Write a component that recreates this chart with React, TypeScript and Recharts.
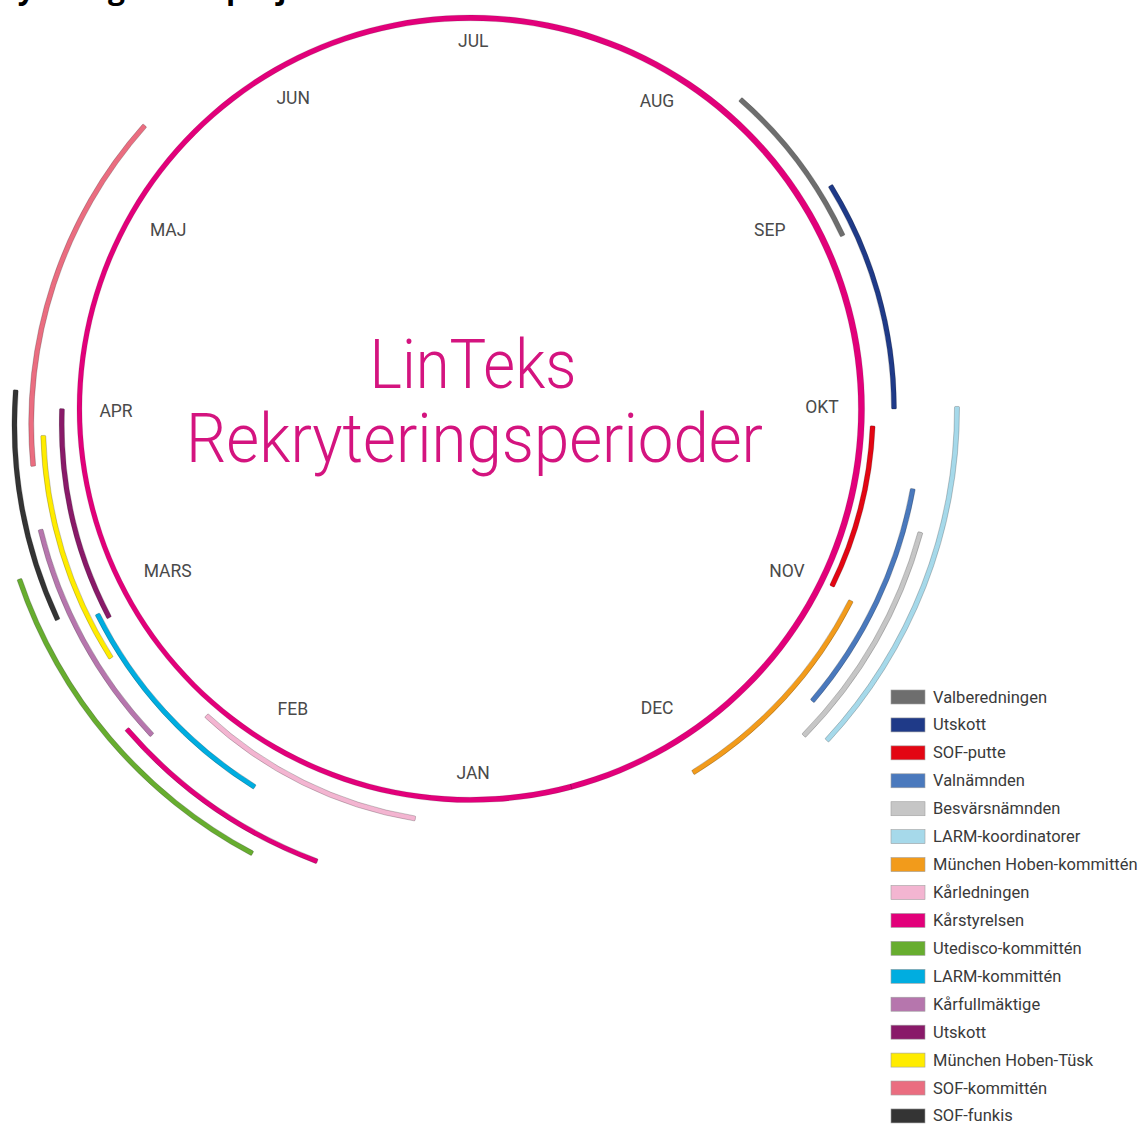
import React from 'react';
import { PieChart, Pie, Cell } from 'recharts';

// ---- data ----
const months = ['JAN', 'FEB', 'MARS', 'APR', 'MAJ', 'JUN', 'JUL', 'AUG', 'SEP', 'OKT', 'NOV', 'DEC'];

const groups = [
  'Valberedningen',
  'Utskott',
  'SOF-putte',
  'Valnämnden',
  'Besvärsnämnden',
  'LARM-koordinatorer',
  'München Hoben-kommittén',
  'Kårledningen',
  'Kårstyrelsen',
  'Utedisco-kommittén',
  'LARM-kommittén',
  'Kårfullmäktige',
  'Utskott',
  'München Hoben-Tüsk',
  'SOF-kommittén',
  'SOF-funkis',
];

// recruitment period, in months from 1 January (0 = 1 Jan, 12 = 31 Dec)
const periodStart = [7.87, 8.44, 9.58, 9.84, 10.01, 9.49, 10.39, 0.81, 1.18, 1.43, 1.56, 2.05, 2.58, 2.42, 3.32, 2.67];
const periodEnd = [8.67, 9.5, 10.37, 10.85, 10.98, 10.93, 11.45, 1.94, 2.14, 2.88, 2.62, 3.05, 3.57, 3.45, 4.89, 3.64];

const titleLines = ['LinTeks', 'Rekryteringsperioder'];
const headingText = 'Rekryteringar och projekt';

// ---- styles / layout ----
const groupColors = [
  '#6e6e6e',
  '#1f3a88',
  '#e30613',
  '#4a79bd',
  '#c6c6c6',
  '#a6d9ea',
  '#f29b1b',
  '#f3b5d1',
  '#e2007a',
  '#67ad2f',
  '#00ade0',
  '#b676ad',
  '#891a69',
  '#ffec00',
  '#ea6d80',
  '#343434',
];
// distance of each period's arc from its ring centre (px)
const ringRadius = [411, 424, 403, 450, 467, 487, 426.5, 399.8, 466.7, 486, 427.2, 452, 418.3, 436.9, 448.8, 465.5];
// month label placement: distance from the centre (px) and angular nudge (deg)
const monthLabelRadius = [364, 348, 343, 354, 351, 358, 368, 360, 349, 352, 356, 353];
const monthLabelNudge = [0.5, -0.6, -1.8, 0.3, -0.7, -0.4, -0.5, -1.3, 0.8, 0.3, 2.9, 2];

const W = 1138;
const H = 1124;
const CX = 470;
const CY = 409;
// spring-semester arcs are drawn around a slightly offset centre
const SPRING_CX = 480;
const SPRING_CY = 424;
const YEAR = 12;
const START_ANGLE = 285; // 1 January
const END_ANGLE = START_ANGLE - 360;
const MAIN_R = 391;
const ARC_W = 5;
const MAGENTA = '#e2007a';
const FONT = 'Roboto, "DejaVu Sans", sans-serif';

const monthData = months.map((m) => ({ name: m, value: 1 }));

function MonthLabel(props: any) {
  const { cx, cy, midAngle, index } = props;
  const name = props.name ?? props.payload?.name;
  const r = monthLabelRadius[index] ?? 356;
  const ang = midAngle + (monthLabelNudge[index] ?? 0);
  const rad = (-ang * Math.PI) / 180;
  const x = cx + r * Math.cos(rad);
  const y = cy + r * Math.sin(rad);
  return (
    <text
      x={x}
      y={y}
      textAnchor="middle"
      dominantBaseline="central"
      fontSize={17.5}
      fill="#4a4a4a"
      fontFamily={FONT}
    >
      {name}
    </text>
  );
}

export default function App() {
  const legendTop = 697;
  const legendStep = 27.93;
  return (
    <div style={{ position: 'absolute', left: 0, top: 0, width: W, height: H, background: '#fff', overflow: 'hidden' }}>
      <PieChart width={W} height={H} margin={{ top: 0, right: 0, bottom: 0, left: 0 }}>
        {/* year ring */}
        <Pie
          data={[{ name: 'år', value: YEAR }]}
          dataKey="value"
          cx={CX}
          cy={CY}
          startAngle={START_ANGLE}
          endAngle={END_ANGLE}
          innerRadius={MAIN_R - 2.8}
          outerRadius={MAIN_R + 2.8}
          isAnimationActive={false}
          stroke="rgba(0,0,0,0.25)"
          strokeWidth={0.5}
          fill={MAGENTA}
        />
        {/* month labels */}
        <Pie
          data={monthData}
          dataKey="value"
          nameKey="name"
          cx={CX}
          cy={CY}
          startAngle={START_ANGLE}
          endAngle={END_ANGLE}
          innerRadius={355}
          outerRadius={356}
          isAnimationActive={false}
          fill="none"
          stroke="none"
          label={MonthLabel}
          labelLine={false}
        />
        {/* recruitment periods */}
        {groups.map((g, i) => {
          const data = [
            { name: 'före', value: periodStart[i] },
            { name: g, value: periodEnd[i] - periodStart[i] },
            { name: 'efter', value: YEAR - periodEnd[i] },
          ];
          const spring = periodEnd[i] <= 6;
          return (
            <Pie
              key={i}
              data={data}
              dataKey="value"
              cx={spring ? SPRING_CX : CX}
              cy={spring ? SPRING_CY : CY}
              startAngle={START_ANGLE}
              endAngle={END_ANGLE}
              innerRadius={ringRadius[i] - ARC_W / 2}
              outerRadius={ringRadius[i] + ARC_W / 2}
              cornerRadius={1}
              isAnimationActive={false}
            >
              {data.map((d, j) => (
                <Cell
                  key={j}
                  fill={j === 1 ? groupColors[i] : 'none'}
                  stroke={j === 1 ? 'rgba(0,0,0,0.35)' : 'none'}
                  strokeWidth={0.6}
                />
              ))}
            </Pie>
          );
        })}
      </PieChart>
      <svg
        width={W}
        height={H}
        style={{ position: 'absolute', left: 0, top: 0, pointerEvents: 'none' }}
      >
        <text x={-52} y={-1} fontSize={30} fontWeight={700} fill="#000" fontFamily='"Open Sans", sans-serif'>
          {headingText}
        </text>
        <text
          x={473}
          y={388}
          textAnchor="middle"
          fontSize={68}
          fontWeight={300}
          fill="#d4147f"
          fontFamily={FONT}
          textLength={207}
          lengthAdjust="spacingAndGlyphs"
        >
          {titleLines[0]}
        </text>
        <text
          x={474.5}
          y={462}
          textAnchor="middle"
          fontSize={68}
          fontWeight={300}
          fill="#d4147f"
          fontFamily={FONT}
          textLength={577}
          lengthAdjust="spacingAndGlyphs"
        >
          {titleLines[1]}
        </text>
        {groups.map((g, i) => {
          const y = legendTop + i * legendStep;
          return (
            <g key={i}>
              <rect x={891} y={y - 7} width={34} height={14} fill={groupColors[i]} stroke="#a0a0a0" strokeWidth={0.6} />
              <text x={933} y={y} dominantBaseline="central" fontSize={16.5} fill="#3a3a3a" fontFamily={FONT}>
                {g}
              </text>
            </g>
          );
        })}
      </svg>
    </div>
  );
}
